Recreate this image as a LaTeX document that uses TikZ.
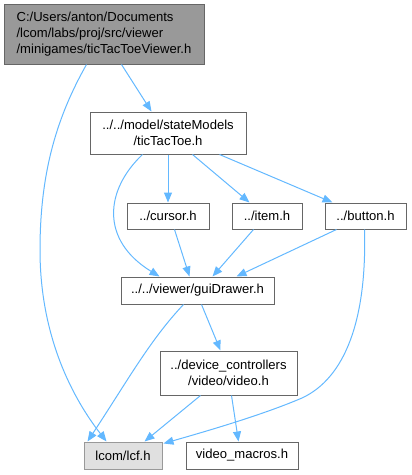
\documentclass[tikz,border=0pt]{standalone}
\usepackage{fontspec}
\setmainfont{Liberation Sans}
\usetikzlibrary{arrows.meta,calc}
\definecolor{edgeblue}{HTML}{63B8FF}
\definecolor{bordergray}{HTML}{666666}
\definecolor{topfill}{HTML}{999999}
\definecolor{lcffill}{HTML}{E0E0E0}
\definecolor{lcfborder}{HTML}{999999}
\tikzset{
  filebox/.style={draw=bordergray, fill=white, line width=0.75pt, inner sep=0pt, align=center,
    font=\fontsize{9.8}{12}\selectfont, text=black},
  dep/.style={draw=edgeblue, line width=0.75pt, -{Triangle[length=7.5pt,width=6pt]}, color=edgeblue}
}
\begin{document}
\begin{tikzpicture}[x=0.75pt,y=-0.75pt]
\useasboundingbox (0,0) rectangle (411,475);
\node[filebox, align=left, fill=topfill, minimum width=150pt, minimum height=45pt] (top) at (104,34)
  {C:/Users/anton/Documents\\/lcom/labs/proj/src/viewer\\/minigames/ticTacToeViewer.h};
\node[filebox, minimum width=117pt, minimum height=31.5pt] (tic) at (168,133)
  {../../model/stateModels\\/ticTacToe.h};
\node[filebox, minimum width=61.5pt, minimum height=19.5pt] (cursor) at (168,216) {../cursor.h};
\node[filebox, minimum width=52.5pt, minimum height=19.5pt] (item) at (267,216) {../item.h};
\node[filebox, minimum width=60.75pt, minimum height=19.5pt] (button) at (365.5,216) {../button.h};
\node[filebox, minimum width=114.75pt, minimum height=20.25pt] (gui) at (197.5,290.5) {../../viewer/guiDrawer.h};
\node[filebox, minimum width=102.75pt, minimum height=33pt] (video) at (228.5,373)
  {../device\_controllers\\/video/video.h};
\node[filebox, draw=lcfborder, fill=lcffill, minimum width=58.5pt, minimum height=20.25pt] (lcf) at (123,455.5) {lcom/lcf.h};
\node[filebox, minimum width=84pt, minimum height=20.25pt] (vm) at (242,455.5) {video\_macros.h};

% top -> lcf
\draw[dep] ($(top.south west)+(83,0)$) .. controls (58,115) and (40,170) .. (40,250)
  .. controls (40,330) and (68,392) .. ($(lcf.north west)+(23,0)$);
% top -> tic
\draw[dep] ($(top.south west)+(118,0)$) -- ($(tic.north west)+(62,0)$);
% tic -> cursor
\draw[dep] (tic.south) -- (cursor.north);
% tic -> item
\draw[dep] ($(tic.south west)+(103,0)$) -- ($(item.north west)+(18,0)$);
% tic -> button
\draw[dep] ($(tic.south west)+(130,0)$) -- ($(button.north west)+(8,0)$);
% tic -> gui
\draw[dep] ($(tic.south west)+(53,0)$) .. controls (105,190) and (100,240) .. ($(gui.north west)+(39,0)$);
% cursor -> gui
\draw[dep] ($(cursor.south west)+(48,0)$) -- ($(gui.north west)+(69,0)$);
% item -> gui
\draw[dep] ($(item.south west)+(22,0)$) -- ($(gui.north west)+(92,0)$);
% button -> gui
\draw[dep] ($(button.south west)+(12,0)$) -- ($(gui.north west)+(116,0)$);
% button -> lcf
\draw[dep] ($(button.south west)+(40,0)$) .. controls (367,320) and (345,378) .. (302,398)
  .. controls (260,416) and (200,433) .. ($(lcf.north east)+(1,2)$);
% gui -> lcf
\draw[dep] ($(gui.south west)+(63,0)$) .. controls (150,340) and (128,380) .. ($(lcf.north west)+(4,0)$);
% gui -> video
\draw[dep] ($(gui.south west)+(81,0)$) -- ($(video.north west)+(61,0)$);
% video -> lcf
\draw[dep] ($(video.south west)+(41,0)$) -- ($(lcf.north west)+(61,0)$);
% video -> vm
\draw[dep] ($(video.south west)+(72,0)$) -- ($(vm.north west)+(53,0)$);
\end{tikzpicture}
\end{document}
